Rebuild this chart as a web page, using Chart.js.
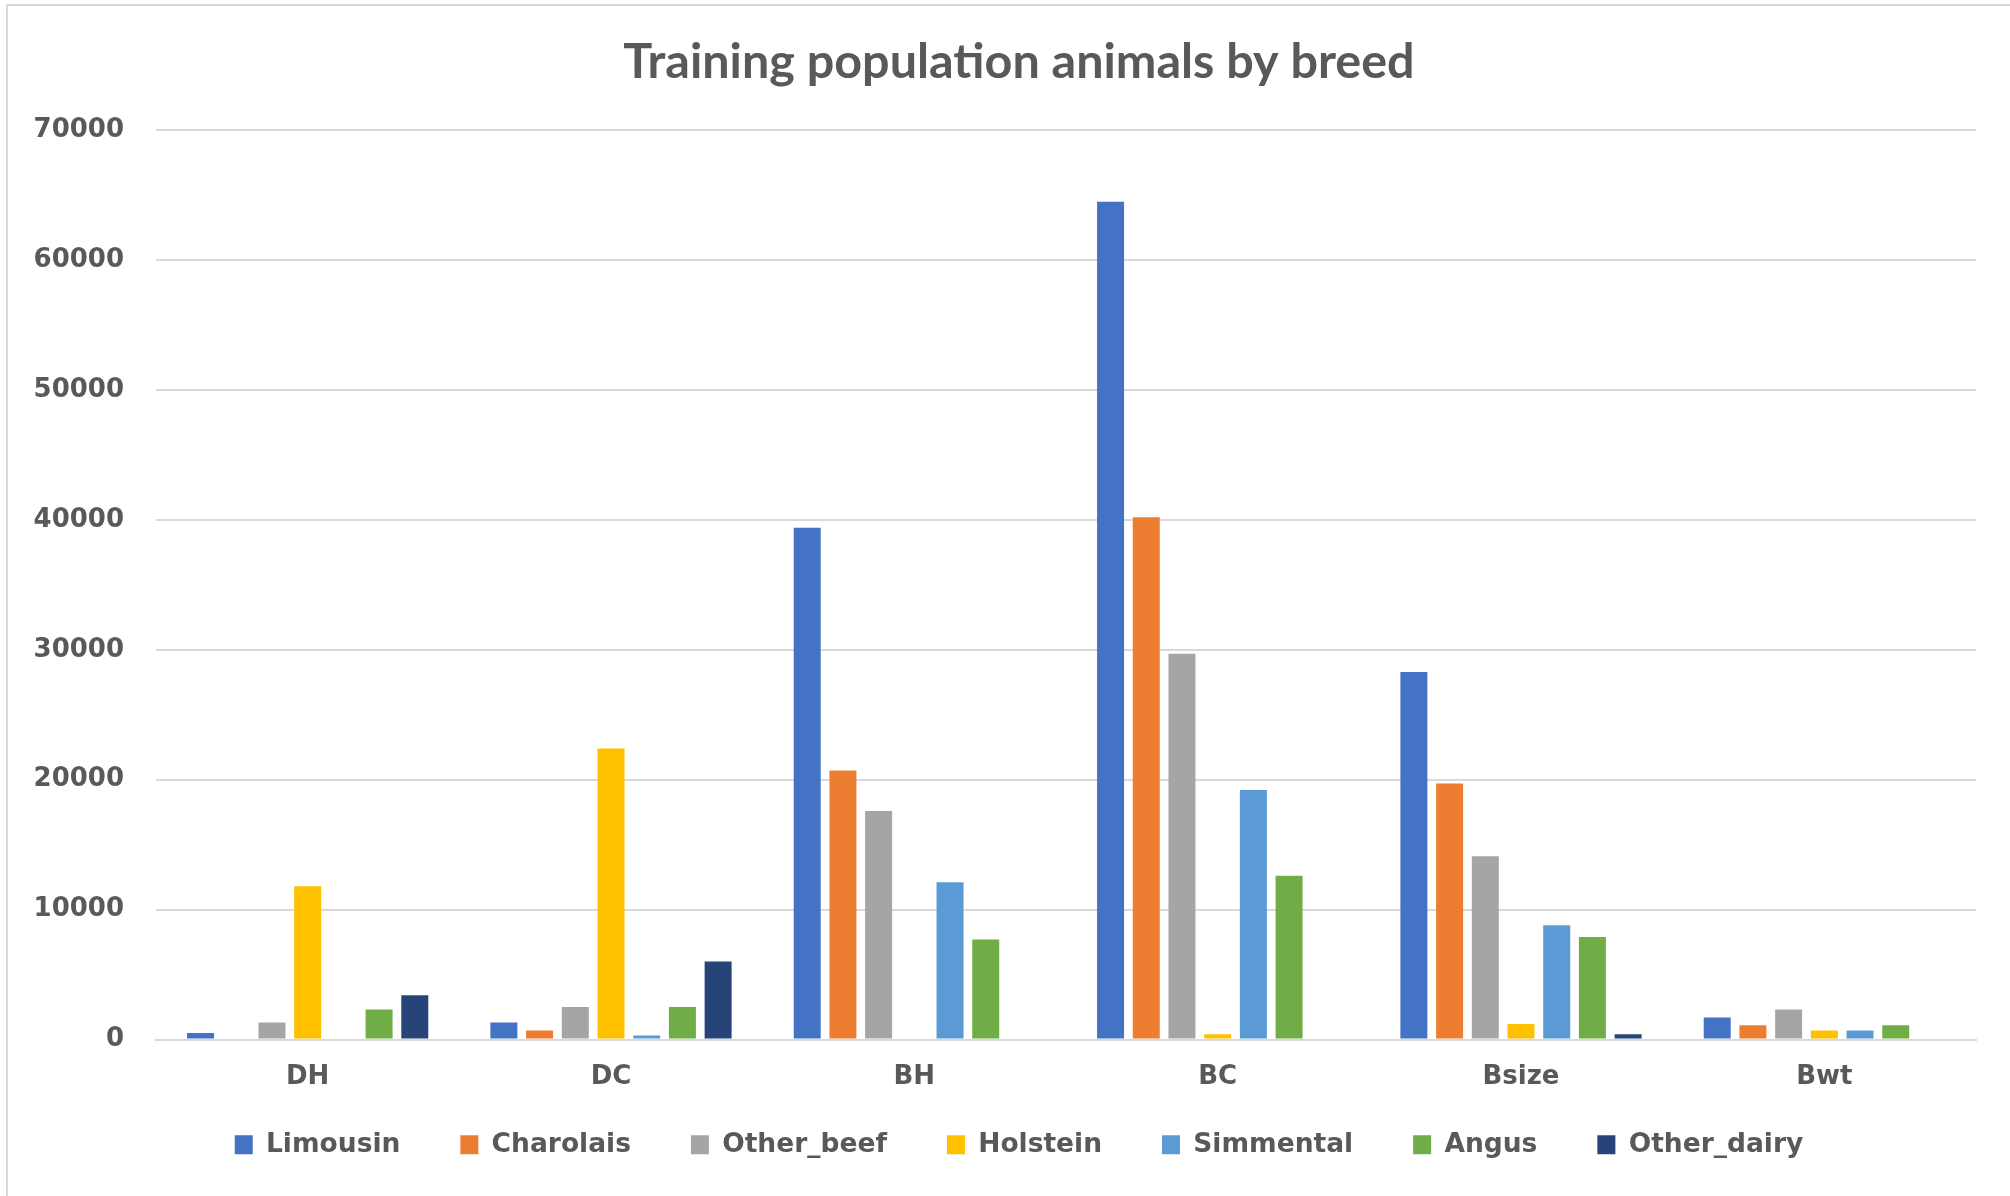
<!DOCTYPE html>
<html>
<head>
<meta charset="utf-8">
<title>Training population animals by breed</title>
<script src="https://cdn.jsdelivr.net/npm/chart.js@4"></script>
<style>
    html, body { margin: 0; padding: 0; background: #fff; overflow: hidden; }
    #wrap { position: relative; width: 2010px; height: 1196px; }
    #frame {
        position: absolute; left: 6px; top: 4px; width: 2020px; height: 1190px;
        border: 2px solid #d9d9d9; pointer-events: none;
    }
</style>
</head>
<body>
<div id="wrap">
    <canvas id="breedChart"></canvas>
    <div id="frame"></div>
</div>
<script>
// categories (traits) and one array per breed
const categories = ['DH', 'DC', 'BH', 'BC', 'Bsize', 'Bwt'];
const limousin   = [500, 1300, 39400, 64500, 28300, 1700];
const charolais  = [0, 700, 20700, 40200, 19700, 1100];
const otherBeef  = [1300, 2500, 17600, 29700, 14100, 2300];
const holstein   = [11800, 22400, 0, 400, 1200, 700];
const simmental  = [0, 300, 12100, 19200, 8800, 700];
const angus      = [2300, 2500, 7700, 12600, 7900, 1100];
const otherDairy = [3400, 6000, 0, 0, 400, 0];
const yTicks = [0, 10000, 20000, 30000, 40000, 50000, 60000, 70000];

const breeds = [
    { label: 'Limousin', data: limousin, color: '#4472C4' },
    { label: 'Charolais', data: charolais, color: '#ED7D31' },
    { label: 'Other_beef', data: otherBeef, color: '#A5A5A5' },
    { label: 'Holstein', data: holstein, color: '#FFC000' },
    { label: 'Simmental', data: simmental, color: '#5B9BD5' },
    { label: 'Angus', data: angus, color: '#70AD47' },
    { label: 'Other_dairy', data: otherDairy, color: '#264478' }
];

const textColor = '#595959';
const gridColor = '#d9d9d9';

Chart.defaults.font.family = "'DejaVu Sans', sans-serif";
Chart.defaults.color = textColor;

const ctx = document.getElementById('breedChart').getContext('2d');
new Chart(ctx, {
    type: 'bar',
    data: {
        labels: categories,
        datasets: breeds.map(b => ({
            label: b.label,
            data: b.data,
            backgroundColor: b.color,
            borderWidth: 0,
            categoryPercentage: 0.824,
            barPercentage: 0.756
        }))
    },
    options: {
        responsive: true,
        maintainAspectRatio: false,
        animation: false,
        layout: { padding: { top: 10, left: 62, right: 34, bottom: 28 } },
        scales: {
            x: {
                grid: { display: false, drawTicks: false },
                border: { display: true, color: gridColor, width: 2 },
                ticks: {
                    color: textColor,
                    padding: 22,
                    font: { size: 26, weight: 'bold' }
                },
                afterFit: scale => {
                    // keep the axis box short so the legend sits close; let labels draw past it
                    scale.height = 32;
                    scale._computeLabelArea = () => undefined;
                }
            },
            y: {
                min: 0,
                max: 70000,
                afterBuildTicks: scale => { scale.ticks = yTicks.map(v => ({ value: v })); },
                afterFit: scale => {
                    scale.width = 94;
                    scale._computeLabelArea = () => undefined;
                },
                grid: { color: gridColor, lineWidth: 2, drawTicks: false },
                border: { display: false },
                ticks: {
                    color: textColor,
                    padding: 32,
                    font: { size: 26, weight: 'bold' },
                    callback: value => String(value)
                }
            }
        },
        plugins: {
            title: {
                display: true,
                text: 'Training population animals by breed',
                color: textColor,
                font: { family: 'Lato', size: 48.5, weight: 'bold' },
                padding: { top: 23, bottom: 39 }
            },
            legend: {
                position: 'bottom',
                labels: {
                    color: textColor,
                    boxWidth: 18,
                    boxHeight: 19,
                    padding: 60,
                    font: { size: 26.5, weight: 'bold' }
                }
            },
            tooltip: { enabled: false }
        }
    }
});
</script>
</body>
</html>
